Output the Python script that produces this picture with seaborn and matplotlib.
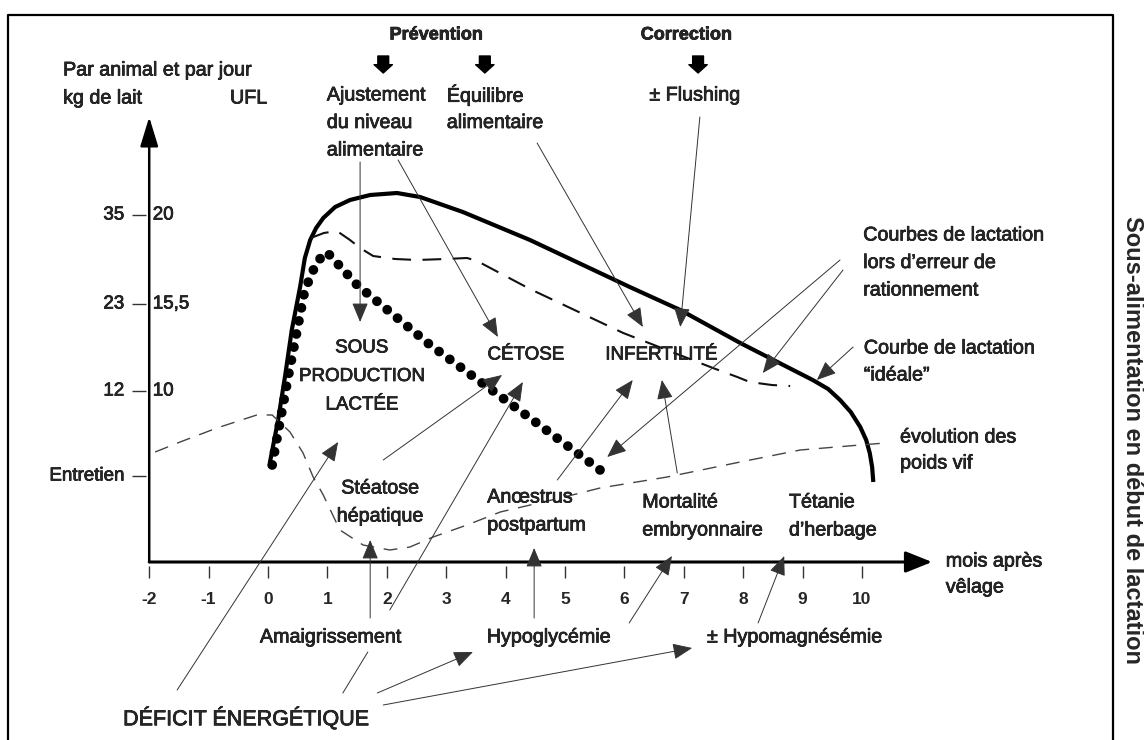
import matplotlib
matplotlib.use("Agg")
import matplotlib.pyplot as plt
import matplotlib.patheffects as pe
import seaborn as sns

# months after calving (x) and level on the drawing's vertical scale (y)
ideal_month = [0.03, 0.17, 0.29, 0.40, 0.54, 0.62, 0.71, 0.81, 0.93, 1.13, 1.38, 1.72, 2.17, 2.56,
               3.28, 4.41, 6.09, 6.94, 7.95, 9.17, 9.43, 9.63, 9.81, 9.97, 10.07, 10.13, 10.17, 10.19]
ideal_level = [9.9, 14.2, 18.7, 23.2, 27.5, 30.4, 32.2, 33.4, 34.4, 35.5, 36.2, 36.7, 36.9, 36.5,
               35.0, 32.2, 27.5, 25.2, 21.9, 18.2, 17.3, 16.2, 15.0, 13.5, 12.2, 10.9, 9.5, 8.0]

moderate_month = [0.72, 0.94, 1.16, 1.38, 1.55, 1.77, 2.14, 2.51, 2.98, 3.35, 3.52, 4.41, 5.98,
                  7.49, 7.90, 8.11, 8.48, 8.79]
moderate_level = [32.4, 32.9, 33.1, 32.2, 31.4, 30.6, 30.3, 30.2, 30.3, 30.4, 30.1, 27.3, 22.9,
                  19.4, 18.5, 18.0, 17.7, 17.6]

severe_month = [0.07, 0.34, 0.62, 0.82, 0.99, 1.16, 1.50, 2.73, 4.41, 5.59]
severe_level = [9.7, 18.5, 27.2, 30.0, 31.0, 29.9, 27.7, 21.7, 14.4, 9.2]

weight_month = [-1.90, -1.48, -0.86, -0.19, 0.07, 0.37, 0.59, 0.76, 0.93, 1.21, 1.60, 2.05, 2.39,
                2.78, 3.35, 3.91, 4.92, 5.59, 6.72, 7.95, 8.96, 9.97, 10.39]
weight_level = [11.0, 12.0, 13.4, 14.7, 14.7, 13.0, 10.9, 8.5, 6.7, 3.2, 1.7, 1.2, 1.5,
                2.5, 3.7, 5.0, 6.4, 7.4, 8.5, 10.0, 11.2, 11.7, 11.9]

month_ticks = list(range(-2, 11))
y_tick_pos = [34.7, 25.8, 17.1, 8.6]
y_left_labels = ["35", "23", "12", "Entretien"]
y_right_labels = ["20", "15,5", "10", ""]

# annotation arrows: (start month, start level, end month, end level)
arrows = [
    (1.55, 40.0, 1.55, 24.0),
    (2.19, 40.2, 3.87, 22.5),
    (4.53, 41.9, 6.31, 23.5),
    (7.27, 44.5, 6.94, 23.5),
    (9.63, 30.2, 5.71, 10.5),
    (9.68, 29.2, 8.33, 18.9),
    (9.85, 21.5, 9.24, 18.2),
    (-1.53, -12.8, 1.18, 12.0),
    (1.94, 10.2, 3.94, 18.7),
    (2.05, -4.8, 4.29, 18.0),
    (1.72, -5.6, 1.72, 2.2),
    (1.84, -13.1, 3.45, -9.0),
    (1.94, -14.3, 7.14, -8.6),
    (4.48, -5.6, 4.48, 1.4),
    (6.08, -6.1, 6.80, 0.6),
    (8.25, -6.1, 8.69, 0.6),
    (4.87, 8.2, 6.14, 18.2),
    (6.89, 8.9, 6.63, 18.2),
]
plain_links = [(1.26, -13.1, 1.68, -9.0)]

sns.set_theme(style="white")
plt.rcParams["font.family"] = ["Liberation Sans", "DejaVu Sans"]

fig = plt.figure(figsize=(11.44, 7.4), dpi=100)
ax = fig.add_axes([0, 0, 1, 1])
ax.set_xlim(-4.512, 14.747)
ax.set_ylim(-17.8, 56.2)
ax.axis("off")

# scanned print looks a bit heavier than the plain regular face
ink = [pe.withStroke(linewidth=0.5, foreground="black")]

# curves
sns.lineplot(x=ideal_month, y=ideal_level, sort=False, estimator=None, ax=ax,
             color="black", lw=3.0)
ax.lines[-1].set_solid_capstyle("butt")

sns.lineplot(x=moderate_month, y=moderate_level, sort=False, estimator=None, ax=ax,
             color="#111111", lw=1.5)
ax.lines[-1].set_dashes((9, 5.5))

sns.lineplot(x=severe_month, y=severe_level, sort=False, estimator=None, ax=ax,
             color="black", lw=7.0)
ax.lines[-1].set_linestyle((0, (0.01, 1.36)))
ax.lines[-1].set_dash_capstyle("round")

sns.lineplot(x=weight_month, y=weight_level, sort=False, estimator=None, ax=ax,
             color="#444444", lw=1.0)
ax.lines[-1].set_dashes((10, 7))

# axes with arrows
ax.annotate("", xy=(11.18, 0), xytext=(-2, 0),
            arrowprops=dict(arrowstyle="-|>,head_length=0.65,head_width=0.26",
                            lw=2.2, color="black", mutation_scale=25, shrinkA=0, shrinkB=0))
ax.annotate("", xy=(-2, 44.5), xytext=(-2, 0),
            arrowprops=dict(arrowstyle="-|>,head_length=0.72,head_width=0.22",
                            lw=1.8, color="black", mutation_scale=25, shrinkA=0, shrinkB=0))

ax.vlines(month_ticks, -1.6, -0.4, color="#333333", lw=1.0)
for m in month_ticks:
    ax.text(m, -3.8, str(m), ha="center", va="center", fontsize=12.5, fontweight="bold")

ax.hlines(y_tick_pos, -2.29, -2.05, color="#333333", lw=1.0)
for yp, l, r in zip(y_tick_pos, y_left_labels, y_right_labels):
    ax.text(-2.42, yp, l, ha="right", va="center", fontsize=13.5, path_effects=ink)
    if r:
        ax.text(-1.94, yp, r, ha="left", va="center", fontsize=13.5, path_effects=ink)

# arrows of the scheme
for x0, y0, x1, y1 in arrows:
    ax.annotate("", xy=(x1, y1), xytext=(x0, y0),
                arrowprops=dict(arrowstyle="-|>,head_length=0.6,head_width=0.25",
                                lw=0.7, color="#333333", mutation_scale=20,
                                shrinkA=0, shrinkB=0))
for x0, y0, x1, y1 in plain_links:
    ax.plot([x0, x1], [y0, y1], color="#333333", lw=0.7)

# small bold arrows under Prévention / Correction
for xm in [1.94, 3.65, 7.24]:
    ax.annotate("", xy=(xm, 48.9), xytext=(xm, 50.6),
                arrowprops=dict(arrowstyle="simple,head_length=0.5,head_width=1.1,tail_width=0.65",
                                color="black", mutation_scale=12, shrinkA=0, shrinkB=0))


def lines_at(x, y, lines, step=2.8, **kw):
    for i, t in enumerate(lines):
        ax.text(x, y - i * step, t, va="center", path_effects=ink, **kw)


fs = 14.2
lines_at(-3.45, 49.2, ["Par animal et par jour", "kg de lait"], fontsize=fs, ha="left")
lines_at(-0.64, 46.4, ["UFL"], fontsize=fs, ha="left")

lines_at(2.83, 52.7, ["Prévention"], fontsize=13, fontweight="bold", ha="center")
lines_at(7.04, 52.7, ["Correction"], fontsize=13, fontweight="bold", ha="center")
lines_at(0.99, 46.7, ["Ajustement", "du niveau", "alimentaire"], step=2.75, fontsize=fs, ha="left")
lines_at(3.01, 46.7, ["Équilibre", "alimentaire"], step=2.75, fontsize=fs, ha="left")
lines_at(7.19, 46.7, ["± Flushing"], fontsize=fs, ha="center")

lines_at(1.58, 21.4, ["SOUS", "PRODUCTION", "LACTÉE"], step=2.85, fontsize=13.5, ha="center")
lines_at(4.34, 20.7, ["CÉTOSE"], fontsize=13.5, ha="center")
lines_at(6.62, 20.7, ["INFERTILITÉ"], fontsize=13.5, ha="center")

lines_at(10.02, 32.7, ["Courbes de lactation", "lors d\u2019erreur de", "rationnement"],
         step=2.75, fontsize=fs, ha="left")
lines_at(10.03, 21.4, ["Courbe de lactation", "\u201cidéale\u201d"], step=2.7, fontsize=fs, ha="left")
lines_at(10.64, 12.5, ["évolution des", "poids vif"], step=2.6, fontsize=fs, ha="left")

lines_at(1.89, 7.4, ["Stéatose", "hépatique"], fontsize=fs, ha="center")
lines_at(3.69, 6.5, ["Anœstrus", "postpartum"], fontsize=fs, ha="left")
lines_at(6.30, 6.0, ["Mortalité", "embryonnaire"], fontsize=fs, ha="left")
lines_at(8.77, 6.0, ["Tétanie", "d\u2019herbage"], fontsize=fs, ha="left")
lines_at(11.41, 0.1, ["mois après", "vêlage"], step=2.6, fontsize=fs, ha="left")

lines_at(1.06, -7.5, ["Amaigrissement"], fontsize=fs, ha="center")
lines_at(4.73, -7.5, ["Hypoglycémie"], fontsize=fs, ha="center")
lines_at(8.87, -7.5, ["± Hypomagnésémie"], fontsize=fs, ha="center")
lines_at(-2.44, -15.6, ["DÉFICIT ÉNERGÉTIQUE"], fontsize=15.5, ha="left")

# side title sits right at the edge of the page
ax.text(14.56, 12.2, "Sous-alimentation en début de lactation", fontsize=17, fontweight="bold",
        rotation=-90, ha="center", va="center")

# frame
ax.plot([0.007, 0.007, 0.973, 0.973], [-0.02, 0.98, 0.98, -0.02], transform=ax.transAxes,
        color="black", lw=1.6, clip_on=False)

fig.savefig("out.png", dpi=100)
